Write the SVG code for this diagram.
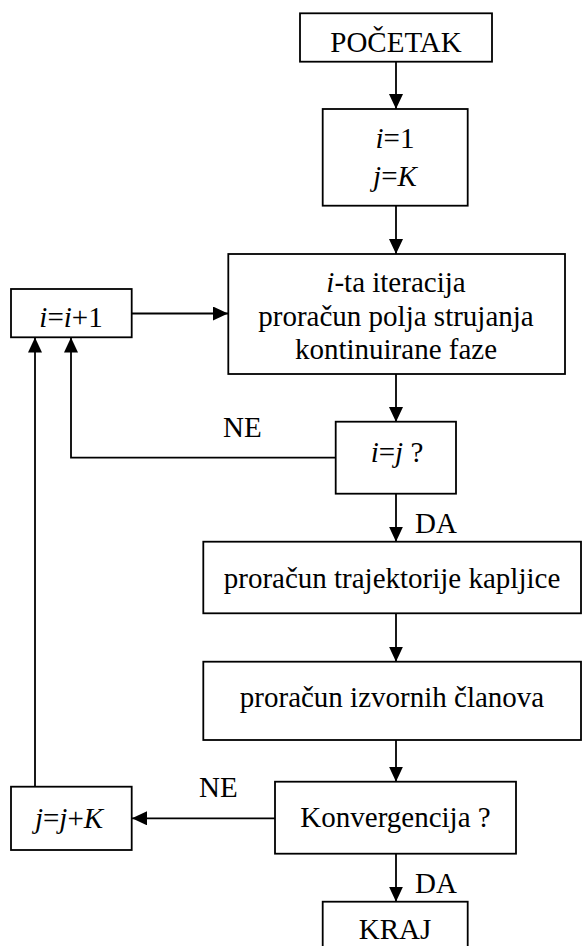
<svg xmlns="http://www.w3.org/2000/svg" width="582" height="946" viewBox="0 0 582 946">
<style>
.box{fill:#fff;stroke:#000;stroke-width:1.8}
.ln{fill:none;stroke:#000;stroke-width:1.8}
text{font-family:"Liberation Serif","Times New Roman",serif;font-size:29px;fill:#000}
.c{text-anchor:middle}
.it{font-style:italic}
</style>
<defs>
<marker id="ah" markerUnits="userSpaceOnUse" markerWidth="16" markerHeight="15" refX="15" refY="7" orient="auto">
<path d="M0,0 L15,7 L0,14 z" fill="#000"/>
</marker>
</defs>
<rect width="582" height="946" fill="#fff"/>
<g id="connectors">
<line class="ln" x1="396" y1="62" x2="396" y2="109" marker-end="url(#ah)"/>
<line class="ln" x1="396" y1="206" x2="396" y2="254" marker-end="url(#ah)"/>
<line class="ln" x1="132" y1="313.5" x2="228" y2="313.5" marker-end="url(#ah)"/>
<line class="ln" x1="396" y1="374" x2="396" y2="422" marker-end="url(#ah)"/>
<polyline class="ln" points="336,457.7 71,457.7 71,337.5" marker-end="url(#ah)"/>
<line class="ln" x1="396" y1="494" x2="396" y2="541.7" marker-end="url(#ah)"/>
<line class="ln" x1="396" y1="613.3" x2="396" y2="661.7" marker-end="url(#ah)"/>
<line class="ln" x1="396" y1="740" x2="396" y2="781.7" marker-end="url(#ah)"/>
<line class="ln" x1="275" y1="818.3" x2="132" y2="818.3" marker-end="url(#ah)"/>
<line class="ln" x1="35" y1="790" x2="35" y2="337.5" marker-end="url(#ah)"/>
<line class="ln" x1="396" y1="854" x2="396" y2="901.7" marker-end="url(#ah)"/>
<text x="223" y="437">NE</text>
<text x="415" y="533">DA</text>
<text x="199" y="797">NE</text>
<text x="415" y="893">DA</text>
</g>
<g id="pocetak">
<rect class="box" x="300" y="13.3" width="192" height="48.4"/>
<text class="c" x="396" y="52">POČETAK</text>
</g>
<g id="init">
<rect class="box" x="322.7" y="109" width="145" height="96.7"/>
<text class="c" x="395" y="148"><tspan class="it">i</tspan>=1</text>
<text class="c" x="395" y="186"><tspan class="it">j</tspan>=<tspan class="it">K</tspan></text>
</g>
<g id="iteracija">
<rect class="box" x="228.3" y="254" width="336.7" height="120"/>
<text class="c" x="396" y="292"><tspan class="it">i</tspan>-ta iteracija</text>
<text class="c" x="396" y="326">proračun polja strujanja</text>
<text class="c" x="396" y="359">kontinuirane faze</text>
</g>
<g id="inc-i">
<rect class="box" x="11" y="289" width="120.7" height="48.3"/>
<text class="c" x="71" y="327"><tspan class="it">i</tspan>=<tspan class="it">i</tspan>+1</text>
</g>
<g id="cond-ij">
<rect class="box" x="335.7" y="421.7" width="120.3" height="72"/>
<text class="c" x="397" y="462"><tspan class="it">i</tspan>=<tspan class="it">j</tspan> ?</text>
</g>
<g id="trajektorija">
<rect class="box" x="203.3" y="541.7" width="377.7" height="71.6"/>
<text class="c" x="392" y="588">proračun trajektorije kapljice</text>
</g>
<g id="izvorni">
<rect class="box" x="203.3" y="661.7" width="377.7" height="78.3"/>
<text class="c" x="392" y="707">proračun izvornih članova</text>
</g>
<g id="konvergencija">
<rect class="box" x="275" y="781.7" width="241" height="72"/>
<text class="c" x="395.5" y="827">Konvergencija ?</text>
</g>
<g id="inc-j">
<rect class="box" x="11" y="786.7" width="120.7" height="63.3"/>
<text class="c" x="69" y="828"><tspan class="it">j</tspan>=<tspan class="it">j</tspan>+<tspan class="it">K</tspan></text>
</g>
<g id="kraj">
<rect class="box" x="322.7" y="901.7" width="145" height="60"/>
<text class="c" x="395" y="939">KRAJ</text>
</g>
</svg>
